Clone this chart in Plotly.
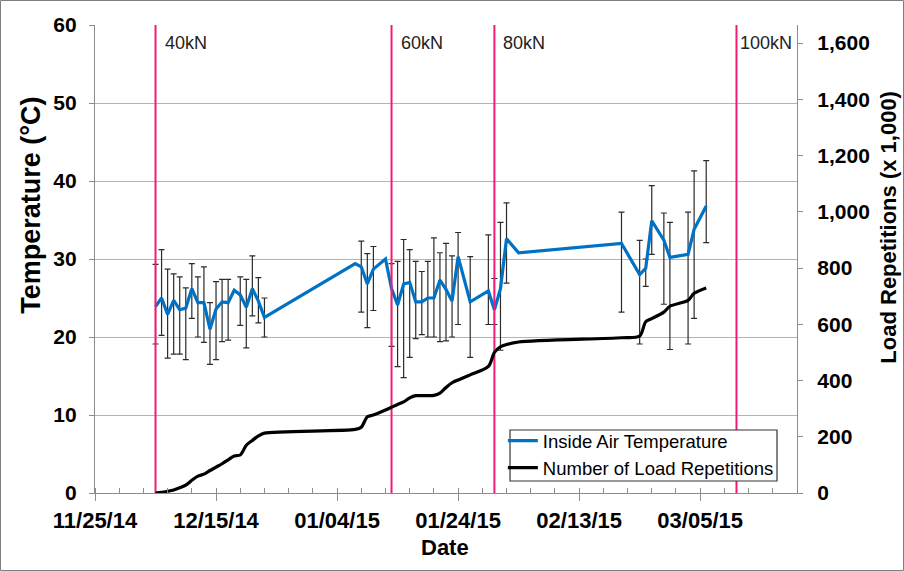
import plotly.graph_objects as go

# Daily readings (inside air temperature, deg C) and cumulative load repetitions (x 1,000)
dates = [
    "2014-12-05", "2014-12-06", "2014-12-07", "2014-12-08", "2014-12-09", "2014-12-10",
    "2014-12-11", "2014-12-12", "2014-12-13", "2014-12-14", "2014-12-15", "2014-12-16",
    "2014-12-17", "2014-12-18", "2014-12-19", "2014-12-20", "2014-12-21", "2014-12-22",
    "2014-12-23",
    "2015-01-07", "2015-01-08", "2015-01-09", "2015-01-10", "2015-01-12", "2015-01-13",
    "2015-01-14", "2015-01-15", "2015-01-16", "2015-01-17", "2015-01-18", "2015-01-19",
    "2015-01-20", "2015-01-21", "2015-01-22", "2015-01-23", "2015-01-24", "2015-01-26",
    "2015-01-29", "2015-01-30", "2015-01-31", "2015-02-01", "2015-02-03",
    "2015-02-20", "2015-02-23", "2015-02-24", "2015-02-25", "2015-02-27", "2015-02-28",
    "2015-03-03", "2015-03-04", "2015-03-06",
]

temp_mean = [
    23.9, 25.0, 22.9, 24.7, 23.5, 23.7, 26.2, 24.4, 24.4, 21.0, 23.6, 24.5, 24.4, 26.0,
    25.4, 23.8, 26.2, 24.6, 22.5,
    29.4, 29.0, 26.8, 28.7, 30.0, 26.2, 24.1, 26.8, 27.0, 24.5, 24.5, 25.0, 25.0, 27.3,
    26.1, 24.6, 30.3, 24.5, 25.9, 23.5, 26.2, 32.6, 30.8,
    32.0, 28.0, 28.8, 34.9, 32.4, 30.2, 30.6, 33.8, 36.8,
]

temp_high = [
    29.3, 31.2, 28.7, 28.1, 27.7, 26.3, 29.4, 27.7, 29.0, 24.4, 27.1, 27.4, 27.4, None,
    27.7, 27.4, 30.4, 27.6, 25.0,
    None, 32.3, 30.7, 31.6, None, 29.4, 29.7, 32.5, 31.2, 29.7, 28.4, 29.7, 32.7, 30.8,
    32.0, 30.4, 33.4, 30.3, 33.1, 27.5, 34.7, 37.2, None,
    36.0, 32.4, 30.0, 39.4, 35.9, 34.7, 36.0, 41.3, 42.6,
]

temp_low = [
    19.1, 20.2, 17.3, 17.8, 17.8, 17.1, 22.4, 20.0, 19.3, 16.5, 17.1, 19.4, 19.6, None,
    21.5, 18.6, 22.7, 21.8, 20.0,
    None, 23.2, 21.2, 23.4, None, 18.8, 16.2, 14.8, 17.4, 19.8, 20.3, 20.0, 20.0, 19.4,
    19.5, 20.0, 21.6, 17.4, 21.6, 21.6, 18.3, 26.9, None,
    23.2, 19.1, 26.5, 30.6, 24.2, 18.4, 19.1, 22.4, 32.1,
]

load_reps = [
    0, 2, 6, 11, 19, 28, 45, 60, 67, 80, 92, 104, 118, 132, 135, 170, 187, 203, 213,
    226, 234, 271, 277, 295, 305, 315, 324, 338, 346, 346, 346, 347, 355, 375, 392, 402,
    420, 450, 500, 520, 528, 537,
    552, 558, 609, 620, 643, 664, 685, 710, 729,
]

# Load level changes
step_dates = ["2014-12-05", "2015-01-13", "2015-01-30", "2015-03-11"]
step_labels = ["40kN", "60kN", "80kN", "100kN"]
label_offsets_px = [7, 7, 7, 2]

x_range = ["2014-11-25", "2015-03-21"]
temp_range = [0, 60]
load_range = [0, 1664]

BLUE = "#0072C6"
PINK = "#F41C72"
FONT = "Liberation Sans, Arial, sans-serif"
AXIS_GREY = "#8c8c8c"

fig = go.Figure()

# min / max whiskers, only on days that have them
eb_x, eb_y, eb_up, eb_dn = [], [], [], []
for d, m, hi, lo in zip(dates, temp_mean, temp_high, temp_low):
    if hi is None or lo is None:
        continue
    eb_x.append(d)
    eb_y.append(m)
    eb_up.append(hi - m)
    eb_dn.append(m - lo)

fig.add_trace(go.Scatter(
    x=eb_x, y=eb_y, mode="markers", marker=dict(size=1, opacity=0),
    error_y=dict(type="data", symmetric=False, array=eb_up, arrayminus=eb_dn,
                 color="#2b2b2b", thickness=1.2, width=3),
    showlegend=False, hoverinfo="skip",
))

fig.add_trace(go.Scatter(
    x=dates, y=temp_mean, mode="lines", name="Inside Air Temperature",
    line=dict(color=BLUE, width=3.2),
))

# vertical markers for each load level
for d in step_dates:
    fig.add_trace(go.Scatter(
        x=[d, d], y=temp_range, mode="lines", line=dict(color=PINK, width=2),
        showlegend=False, hoverinfo="skip",
    ))

fig.add_trace(go.Scatter(
    x=dates, y=load_reps, mode="lines", name="Number of Load Repetitions",
    line=dict(color="black", width=3.2, shape="spline", smoothing=0.8), yaxis="y2",
))

for d, lab, off in zip(step_dates, step_labels, label_offsets_px):
    fig.add_annotation(
        x=d, y=57.7, xref="x", yref="y", text=lab, showarrow=False,
        xanchor="left", yanchor="middle", xshift=off,
        font=dict(family=FONT, size=18, color="#222"),
    )

# axis titles
fig.add_annotation(x=-0.091, y=0.614, xref="paper", yref="paper", text="Temperature (°C)",
                   textangle=-90, showarrow=False, xanchor="center", yanchor="middle",
                   font=dict(family=FONT, size=27, color="black", weight="bold"))
fig.add_annotation(x=1.131, y=0.569, xref="paper", yref="paper",
                   text="Load Repetitions (x 1,000)", textangle=-90, showarrow=False,
                   xanchor="center", yanchor="middle",
                   font=dict(family=FONT, size=22, color="black", weight="bold"))
fig.add_annotation(x=0.4986, y=-0.1154, xref="paper", yref="paper", text="Date",
                   showarrow=False, xanchor="center", yanchor="middle",
                   font=dict(family=FONT, size=22, color="black", weight="bold"))

# legend frame
fig.add_shape(type="rect", xref="paper", yref="paper", x0=0.5912, x1=0.9715,
              y0=0.0256, y1=0.1346, fillcolor="white",
              line=dict(color="#333", width=1.2), layer="above")

# thin frame around the whole chart area
fig.add_shape(type="rect", xref="paper", yref="paper",
              x0=-94.5 / 702, x1=1 + 106.5 / 702, y0=-77.5 / 468, y1=1 + 24.5 / 468,
              line=dict(color="#7f7f7f", width=1), fillcolor="rgba(0,0,0,0)",
              layer="below")

xtickfont = dict(family=FONT, size=22, color="black", weight="bold")
ytickfont = dict(family=FONT, size=21, color="black", weight="bold")

fig.update_layout(
    width=904, height=571,
    margin=dict(l=95, r=107, t=25, b=78),
    paper_bgcolor="white", plot_bgcolor="white",
    showlegend=True,
    legend=dict(
        x=0.581, y=0.1517, xanchor="left", yanchor="top",
        bgcolor="rgba(0,0,0,0)", borderwidth=0,
        font=dict(family=FONT, size=18.5, color="black"),
        tracegroupgap=0, itemwidth=30,
    ),
    xaxis=dict(
        type="date", range=x_range, tick0=x_range[0], dtick=20 * 86400000,
        tickformat="%m/%d/%y", tickfont=xtickfont,
        showgrid=False, showline=True, linecolor=AXIS_GREY, linewidth=1.3,
        ticks="outside", ticklen=7, tickcolor=AXIS_GREY,
        minor=dict(dtick=4 * 86400000, tick0=x_range[0], ticks="inside", ticklen=5,
                   tickcolor=AXIS_GREY, showgrid=False),
        zeroline=False,
    ),
    yaxis=dict(
        range=temp_range, dtick=10, tickfont=ytickfont, ticklabelstandoff=8,
        showgrid=True, gridcolor="#b4b4b4", gridwidth=1.3,
        showline=True, linecolor=AXIS_GREY, linewidth=1.3,
        ticks="outside", ticklen=5, tickcolor=AXIS_GREY, zeroline=False,
    ),
    yaxis2=dict(
        range=load_range, dtick=200, tickformat=",d", tickfont=ytickfont,
        ticklabelstandoff=10,
        overlaying="y", side="right", showgrid=False,
        showline=True, linecolor=AXIS_GREY, linewidth=1.3,
        ticks="outside", ticklen=5, tickcolor=AXIS_GREY, zeroline=False,
    ),
)

fig.write_html("out.html")
